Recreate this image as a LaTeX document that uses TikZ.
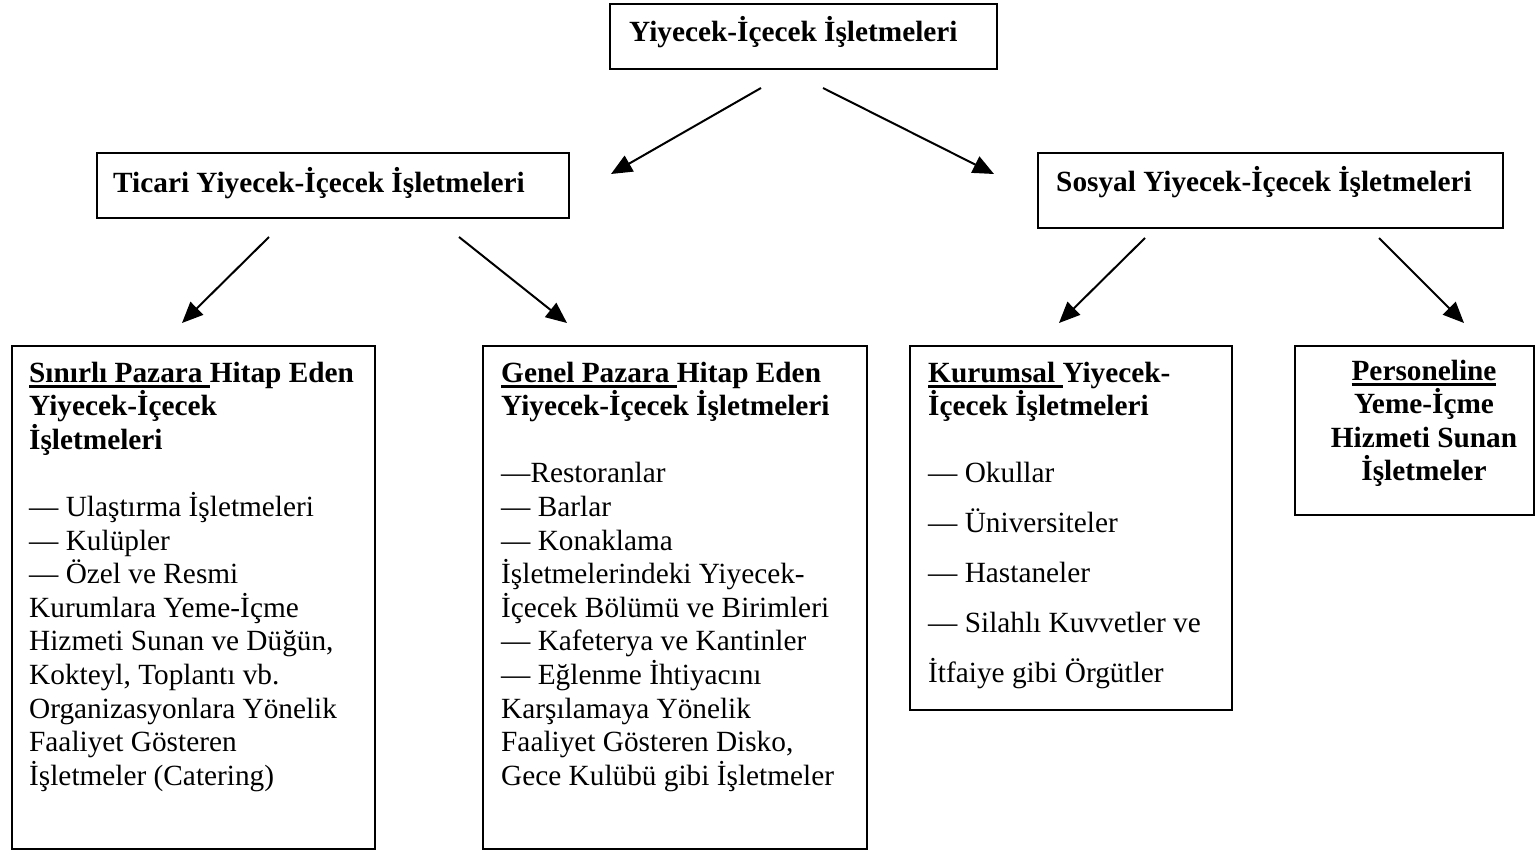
\documentclass[tikz,border=0pt]{standalone}
\usepackage{fontspec}
\setmainfont{Liberation Serif}
\usetikzlibrary{arrows.meta}
\newsavebox{\myulbox}
\newcommand{\myul}[1]{\leavevmode\sbox{\myulbox}{#1}\rlap{\rule[-5.5pt]{\wd\myulbox}{2.4pt}}\usebox{\myulbox}}
\tikzset{
  box/.style={draw, line width=1.6pt, rectangle, inner sep=0pt, anchor=north west},
  txt/.style={inner sep=0pt, anchor=base west, font=\fontsize{29.3pt}{33.6pt}\selectfont},
  hdr/.style={txt, font=\fontsize{29.3pt}{33.6pt}\selectfont\bfseries},
  arr/.style={line width=2pt, -{Triangle[length=21pt,width=18pt]}},
}
\begin{document}
\begin{tikzpicture}[x=1pt,y=-1pt]
\useasboundingbox (0,0) rectangle (1535,851);
% boxes
\node[box, minimum width=387pt, minimum height=65pt] (top) at (609,3) {};
\node[box, minimum width=472pt, minimum height=65pt] (tic) at (96,152) {};
\node[box, minimum width=465pt, minimum height=75pt] (sos) at (1037,152) {};
\node[box, minimum width=363pt, minimum height=503pt] (b1) at (11,345) {};
\node[box, minimum width=384pt, minimum height=503pt] (b2) at (482,345) {};
\node[box, minimum width=322pt, minimum height=364pt] (b3) at (909,345) {};
\node[box, minimum width=239pt, minimum height=169pt] (b4) at (1294,345) {};
% texts
\node[hdr] (ttop) at (629,42) {Yiyecek-İçecek İşletmeleri};
\node[hdr] (ttic) at (113,192) {Ticari Yiyecek-İçecek İşletmeleri};
\node[hdr] (tsos) at (1056,191) {Sosyal Yiyecek-İçecek İşletmeleri};
\node[txt] (t1) at (29,382) {\parbox[t]{345pt}{\raggedright\bfseries
  \myul{Sınırlı Pazara }Hitap Eden\\
  Yiyecek-İçecek\\
  İşletmeleri\\[33.6pt]
  \mdseries — Ulaştırma İşletmeleri\\
  — Kulüpler\\
  — Özel ve Resmi\\
  Kurumlara Yeme-İçme\\
  Hizmeti Sunan ve Düğün,\\
  Kokteyl, Toplantı vb.\\
  Organizasyonlara Yönelik\\
  Faaliyet Gösteren\\
  İşletmeler (Catering)}};
\node[txt] (t2) at (501,382) {\parbox[t]{362pt}{\raggedright\bfseries
  \myul{Genel Pazara }Hitap Eden\\
  Yiyecek-İçecek İşletmeleri\\[33.6pt]
  \mdseries —Restoranlar\\
  — Barlar\\
  — Konaklama\\
  İşletmelerindeki Yiyecek-\\
  İçecek Bölümü ve Birimleri\\
  — Kafeterya ve Kantinler\\
  — Eğlenme İhtiyacını\\
  Karşılamaya Yönelik\\
  Faaliyet Gösteren Disko,\\
  Gece Kulübü gibi İşletmeler}};
\node[txt] (t3) at (928,382) {\parbox[t]{300pt}{\raggedright\bfseries
  \myul{Kurumsal }Yiyecek-\\
  İçecek İşletmeleri\\[33.6pt]
  \mdseries — Okullar\\[16.4pt]
  — Üniversiteler\\[16.4pt]
  — Hastaneler\\[16.4pt]
  — Silahlı Kuvvetler ve\\[16.4pt]
  İtfaiye gibi Örgütler}};
\node[hdr, anchor=base] (t4) at (1424,380) {\parbox[t]{236pt}{\centering
  \myul{Personeline}\\
  Yeme-İçme\\
  Hizmeti Sunan\\
  İşletmeler}};
% connector end points
\coordinate (a1s) at (761,88);  \coordinate (a1e) at (611,174);
\coordinate (a2s) at (823,88);  \coordinate (a2e) at (994,174);
\coordinate (a3s) at (269,237); \coordinate (a3e) at (182,323);
\coordinate (a4s) at (459,237); \coordinate (a4e) at (567,323);
\coordinate (a5s) at (1145,238); \coordinate (a5e) at (1059,323);
\coordinate (a6s) at (1379,238); \coordinate (a6e) at (1464,323);
\draw[arr] (a1s) -- (a1e);
\draw[arr] (a2s) -- (a2e);
\draw[arr] (a3s) -- (a3e);
\draw[arr] (a4s) -- (a4e);
\draw[arr] (a5s) -- (a5e);
\draw[arr] (a6s) -- (a6e);
\end{tikzpicture}
\end{document}
